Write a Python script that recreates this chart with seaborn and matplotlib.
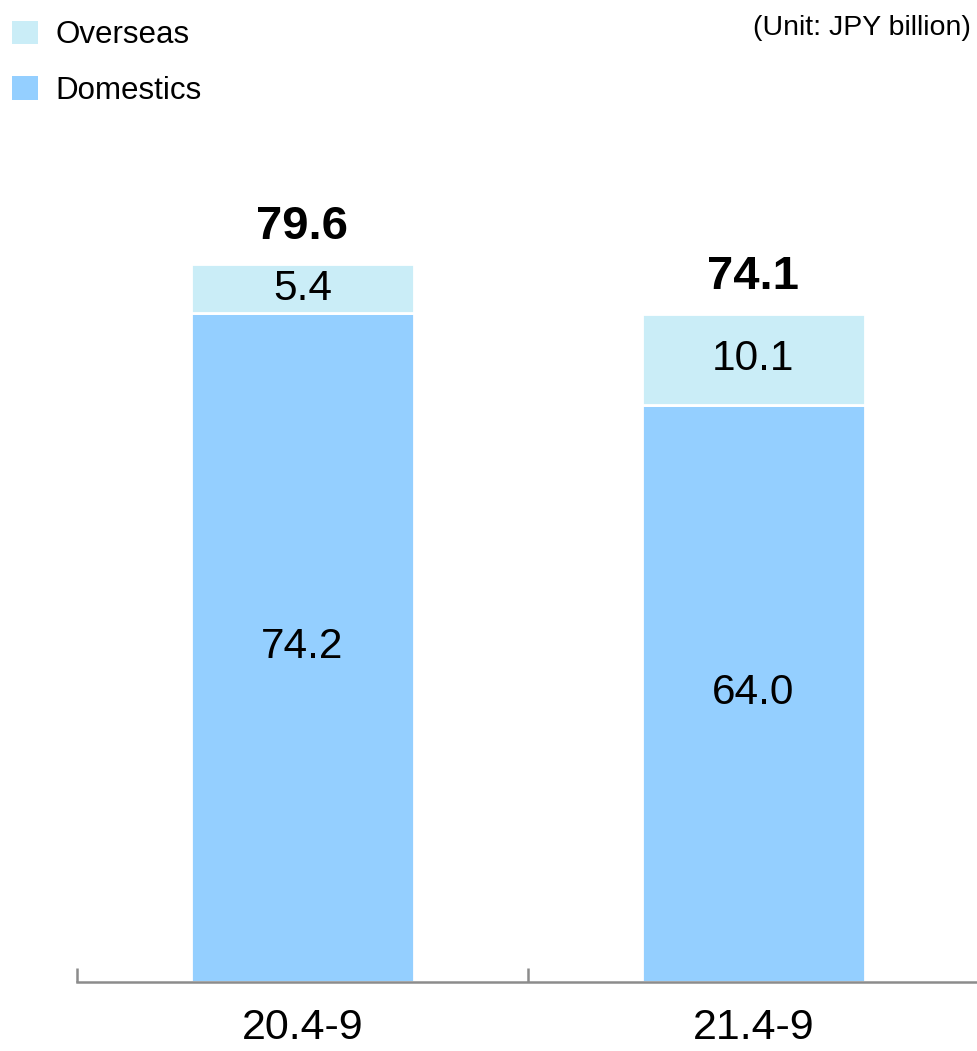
import matplotlib
matplotlib.use("Agg")
import matplotlib.pyplot as plt
import seaborn as sns
import pandas as pd
from matplotlib.patches import Patch

periods = ["20.4-9", "21.4-9"]
domestics = [74.2, 64.0]
overseas = [5.4, 10.1]
totals = [79.6, 74.1]

dom_color = "#94CFFF"
ovs_color = "#CAEDF7"

sns.set_theme(style="white")
plt.rcParams["font.family"] = ["Liberation Sans", "DejaVu Sans"]
plt.rcParams["text.color"] = "black"

df = pd.DataFrame({"period": periods, "Domestics": domestics, "Overseas": overseas})

fig = plt.figure(figsize=(9.78, 10.51), dpi=100)
ax = fig.add_axes([0.0787, 0.0657, 0.9223, 0.8578])

bw = 0.495
sns.barplot(data=df, x="period", y="Domestics", color=dom_color, width=bw,
            saturation=1, edgecolor="white", linewidth=2, ax=ax)
sns.barplot(data=df, x="period", y="Overseas", bottom=df["Domestics"], color=ovs_color,
            width=bw, saturation=1, edgecolor="white", linewidth=2, ax=ax)

ax.set_xlim(-0.5, 1.5)
ax.set_ylim(0, 100)
ax.set_xlabel("")
ax.set_ylabel("")
ax.set_yticks([])

for side in ["top", "right", "left"]:
    ax.spines[side].set_visible(False)
ax.spines["bottom"].set_color("#8c8c8c")
ax.spines["bottom"].set_linewidth(1.8)

ax.tick_params(axis="x", which="major", bottom=False, length=0, labelsize=31, pad=19,
               labelcolor="black")
ax.set_xticks([-0.5, 0.5], minor=True)
ax.tick_params(axis="x", which="minor", bottom=True, direction="in", length=10, width=1.8,
               color="#8c8c8c")

for i in range(len(periods)):
    ax.text(i, domestics[i] / 2, f"{domestics[i]:.1f}", ha="center", va="center",
            fontsize=30.5, color="black")
    ax.text(i, domestics[i] + overseas[i] / 2, f"{overseas[i]:.1f}", ha="center", va="center",
            fontsize=30.5, color="black")
    ax.annotate(f"{totals[i]:.1f}", (i, totals[i]), xytext=(0, 11), textcoords="offset points",
                ha="center", va="bottom", fontsize=34, fontweight="bold", color="black")

handles = [Patch(facecolor=ovs_color, edgecolor="none", label="Overseas"),
           Patch(facecolor=dom_color, edgecolor="none", label="Domestics")]
leg = fig.legend(handles=handles, loc="upper left", bbox_to_anchor=(-0.008, 1.0), frameon=False,
                 fontsize=22.5, handlelength=0.82, handleheight=0.8, handletextpad=0.55,
                 labelspacing=0.82, borderaxespad=0.3, borderpad=0.35)
for t in leg.get_texts():
    t.set_color("black")

fig.text(0.993, 1 - 35 / 1051, "(Unit: JPY billion)", ha="right", va="baseline",
         fontsize=20.5, color="black")

fig.savefig("out.png", dpi=100)
